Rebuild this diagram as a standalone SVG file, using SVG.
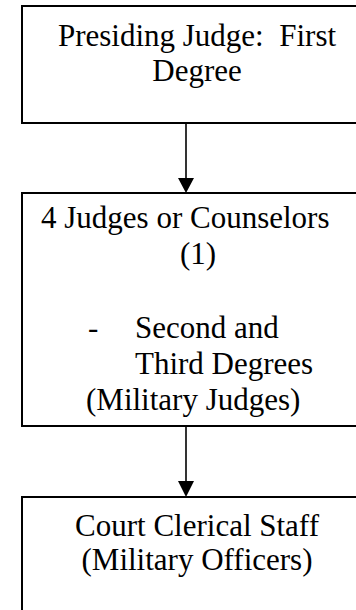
<svg xmlns="http://www.w3.org/2000/svg" width="356" height="610" viewBox="0 0 356 610">
  <style>
    .box { fill: #ffffff; stroke: #000000; stroke-width: 2; }
    .lbl { font-family: "Liberation Serif", "Times New Roman", serif; font-size: 31px; fill: #000000; white-space: pre; }
    .mid { text-anchor: middle; }
    .link { stroke: #000000; stroke-width: 1.6; fill: none; }
    .head { fill: #000000; }
  </style>
  <rect width="356" height="610" fill="#ffffff"/>

  <g id="connectors">
    <line class="link" x1="186" y1="123" x2="186" y2="180"/>
    <polygon class="head" points="178,178 194,178 186,193"/>
    <line class="link" x1="186" y1="426" x2="186" y2="483"/>
    <polygon class="head" points="178,481 194,481 186,497"/>
  </g>

  <g id="presiding-judge">
    <rect class="box" x="22" y="6" width="360" height="117"/>
    <text class="lbl mid" x="197" y="46" xml:space="preserve">Presiding Judge:  First</text>
    <text class="lbl mid" x="197" y="81">Degree</text>
  </g>

  <g id="judges-counselors">
    <rect class="box" x="22" y="193" width="360" height="233"/>
    <text class="lbl" x="41" y="228">4 Judges or Counselors</text>
    <text class="lbl mid" x="198" y="264">(1)</text>
    <text class="lbl" x="88" y="338">-</text>
    <text class="lbl" x="135" y="338">Second and</text>
    <text class="lbl" x="135" y="374">Third Degrees</text>
    <text class="lbl" x="86" y="410">(Military Judges)</text>
  </g>

  <g id="clerical-staff">
    <rect class="box" x="22" y="497" width="360" height="140"/>
    <text class="lbl mid" x="197" y="536">Court Clerical Staff</text>
    <text class="lbl mid" x="197" y="570">(Military Officers)</text>
  </g>
</svg>
